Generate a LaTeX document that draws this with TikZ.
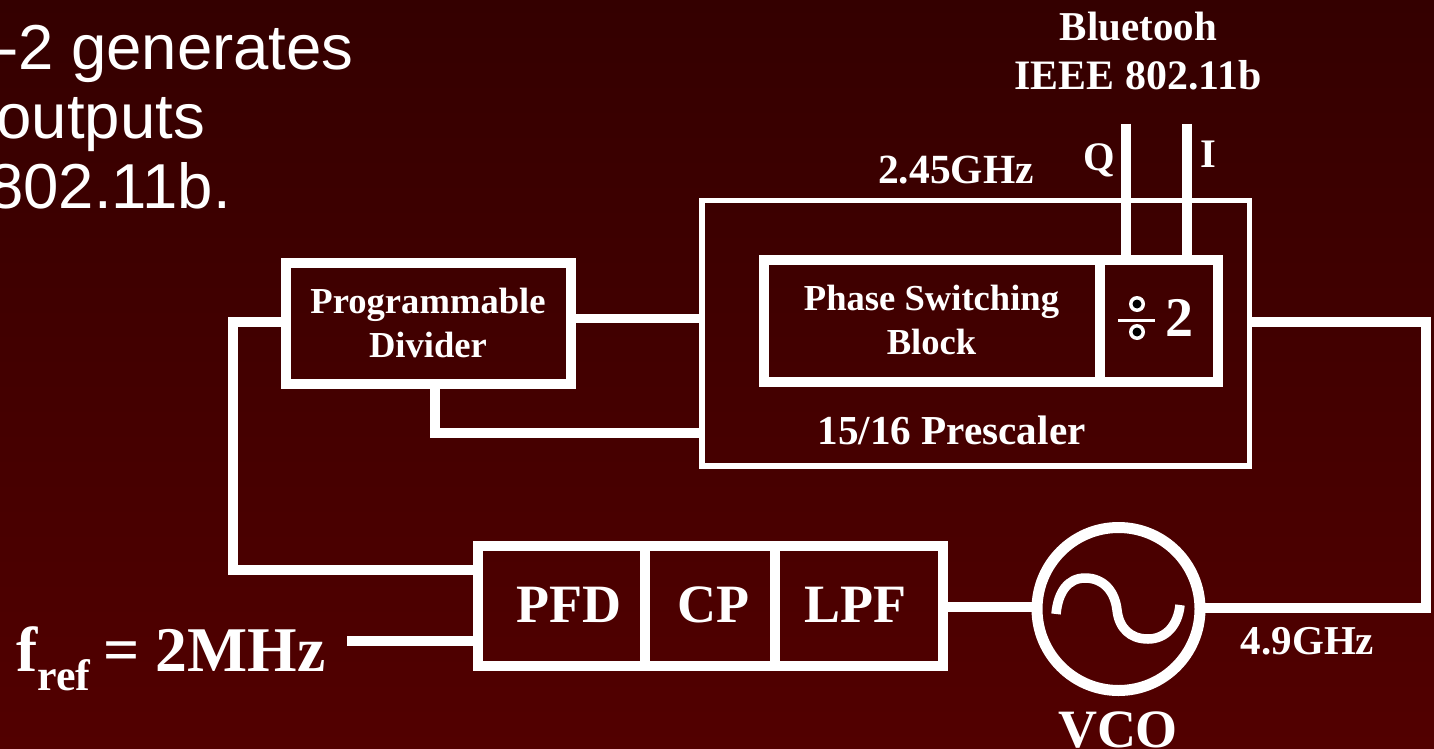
\documentclass[tikz,border=0pt]{standalone}
\usepackage{fontspec}
\setmainfont{Liberation Serif}
\newfontfamily\slidefont{Liberation Sans}
\definecolor{bgtop}{HTML}{340000}
\definecolor{bgbot}{HTML}{520000}
\newcommand{\fsz}[1]{\fontsize{#1}{#1}\selectfont}
\tikzset{
  heavybox/.style={draw=white,line width=10pt,minimum width=#1,inner sep=0pt,outer sep=0pt,rectangle},
  wire/.style={draw=white,line width=10pt},
  lab/.style={text=white,inner sep=0pt,anchor=base,font=\bfseries\fsz{#1}},
  slide/.style={text=white,inner sep=0pt,anchor=base east,font=\slidefont\fsz{63.5}},
}
\begin{document}
\begin{tikzpicture}[x=1pt,y=-1pt]
\useasboundingbox (0,0) rectangle (1434,749);
\shade[top color=bgtop,bottom color=bgbot] (0,0) rectangle (1434,749);
\begin{scope}
\clip (0,0) rectangle (1434,749);
% slide text
\node[slide] (s1) at (354,70) {-2 generates};
\node[slide] (s2) at (205,139) {outputs};
\node[slide] (s3) at (231,208.5) {802.11b.};
% blocks
\node[draw=white,line width=5.5pt,rectangle,minimum width=547.5pt,minimum height=265.5pt,outer sep=0pt] (pre) at (975.75,333.25) {};
\node[heavybox=285pt,minimum height=121pt] (div) at (428.5,323.5) {};
\node[heavybox=336pt,minimum height=122pt] (psb) at (932,321) {};
\node[heavybox=118pt,minimum height=122pt] (dv2) at (1159,321) {};
\node[heavybox=167pt,minimum height=120pt] (pfd) at (561.5,606) {};
\node[heavybox=130pt,minimum height=120pt] (cp) at (710,606) {};
\node[heavybox=168pt,minimum height=120pt] (lpf) at (859,606) {};
\node[draw=white,line width=11pt,circle,minimum size=163pt,inner sep=0pt,outer sep=0pt] (vco) at (1118.5,609) {};
% sine in VCO
\draw[white,line width=9.5pt] (1056,614)
  .. controls (1058,592) and (1068,578) .. (1085,578)
  .. controls (1104,578) and (1115,592) .. (1117,610)
  .. controls (1119,628) and (1130,639) .. (1148,639)
  .. controls (1166,639) and (1178,625) .. (1180,605);
% free ends
\coordinate (qtop) at (1125.5,124);
\coordinate (itop) at (1187,124);
\coordinate (fin) at (347,641);
% connectors
\draw[wire] (qtop) -- (qtop |- dv2.north);
\draw[wire] (itop) -- (itop |- dv2.north);
\draw[wire,line width=9pt] (div.east |- 0,318) -- (pre.west |- 0,318);
\draw[wire] (div.south -| 435,0) -- (435,433) -- (pre.west |- 0,433);
\draw[wire] (div.west |- 0,322) -- (233,322) -- (233,570) -- (pfd.west |- 0,570);
\draw[wire] (pre.east |- 0,322) -- (1426,322) -- (1426,608) -- (vco.east |- 0,608);
\draw[wire] (lpf.east |- 0,607) -- (vco.west |- 0,607);
\draw[wire] (fin) -- (pfd.west |- fin);
% divide sign
\draw[white,line width=3pt] (1118,320) -- (1155,320);
\fill[white] (1137,304) circle (8pt) (1137,332) circle (8pt);
\fill[black] (1137,304) circle (4.5pt) (1137,332) circle (4.5pt);
% labels
\node[lab=56] (t2) at (1179.5,336.5) {2};
\node[lab=41] (tb) at (1138.5,41) {Bluetooh};
\node[lab=41.9] (ti) at (1138,90) {IEEE 802.11b};
\node[lab=41.5] (tf1) at (956,183) {2.45GHz};
\node[lab=40.5] (tq) at (1099,170) {Q};
\node[lab=40.5] (ti2) at (1208,167) {I};
\node[lab=36.6] (tp1) at (428,313) {Programmable};
\node[lab=36.6] (tp2) at (428,357) {Divider};
\node[lab=36.6] (tp3) at (931.5,310) {Phase Switching};
\node[lab=36.6] (tp4) at (931.5,354) {Block};
\node[lab=41.2] (tp5) at (951.5,444) {15/16 Prescaler};
\node[lab=54] (tpfd) at (568.5,622) {PFD};
\node[lab=54] (tcp) at (713.5,622) {CP};
\node[lab=54] (tlpf) at (855,622) {LPF};
\node[lab=54] (tvco) at (1118,747) {VCO};
\node[lab=41] (tf2) at (1307.5,654) {4.9GHz};
\node[text=white,inner sep=0pt,anchor=base west,font=\bfseries\fsz{63.7}] (tfr) at (16,671.5) {f\raisebox{-18.5pt}{\fsz{44}ref}\kern13pt= 2MHz};
\end{scope}
\end{tikzpicture}
\end{document}
